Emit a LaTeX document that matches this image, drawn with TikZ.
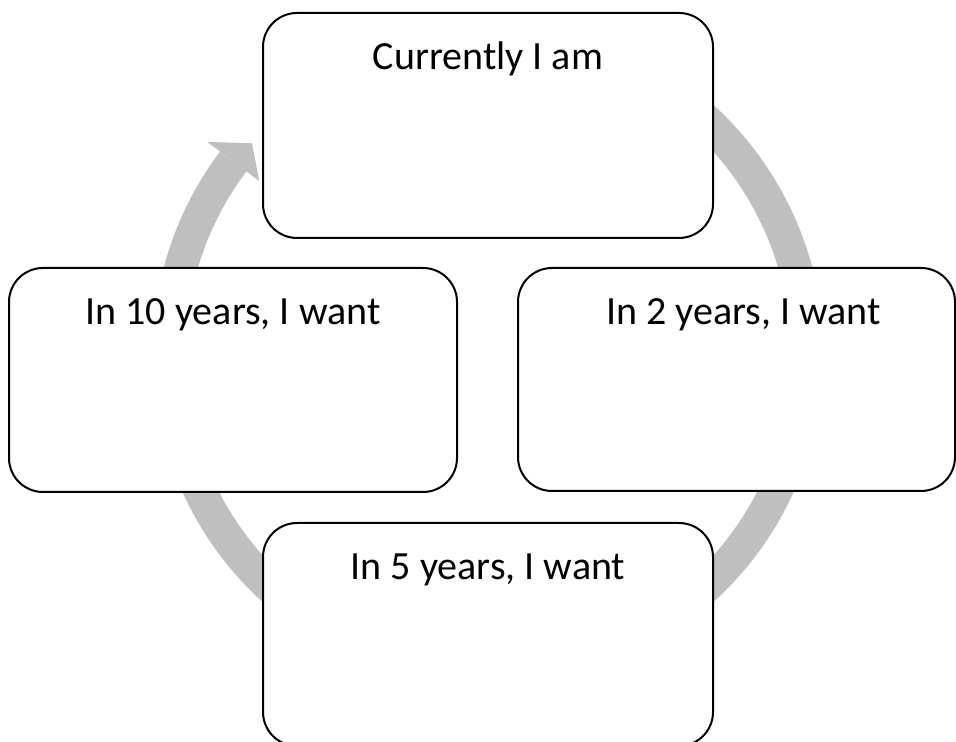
\documentclass[tikz,border=0pt]{standalone}
\usepackage{fontspec}
\setmainfont{Carlito}
\tikzset{
  goalbox/.style={draw,line width=1pt,rounded corners=17pt,fill=white,inner sep=0pt},
  goaltext/.style={anchor=base,inner sep=0pt,font=\fontsize{20}{24}\selectfont},
  cyclering/.style={draw=black!25,line width=16.5pt}
}

\begin{document}
\begin{tikzpicture}[x=0.5pt,y=0.5pt]
  \useasboundingbox (0,0) rectangle (956,742);
  \coordinate (c) at (488,388.5);
  % grey cycle behind the boxes
  \draw[cyclering] (c) ++(75:319) arc[start angle=75,end angle=-217,radius=319];
  \fill[black!25,shift={(c)}] (143:286.5) -- (138.3:316) -- (143:351.5) -- cycle;
  % boxes
  \node[goalbox,minimum width=225pt,minimum height=112.5pt] (now) at (488,616.5) {};
  \node[goaltext] (nowtext) at ([yshift=-29pt]now.north) {Currently I am};
  \node[goalbox,minimum width=218.5pt,minimum height=111.5pt] (two) at (736.5,362.5) {};
  \node[goaltext] (twotext) at ([xshift=3.5pt,yshift=-29pt]two.north) {In 2 years, I want};
  \node[goalbox,minimum width=225pt,minimum height=111.5pt] (five) at (488,107.5) {};
  \node[goaltext] (fivetext) at ([yshift=-29pt]five.north) {In 5 years, I want};
  \node[goalbox,minimum width=224pt,minimum height=112pt] (ten) at (233,362) {};
  \node[goaltext] (tentext) at ([yshift=-29pt]ten.north) {In 10 years, I want};
\end{tikzpicture}
\end{document}
